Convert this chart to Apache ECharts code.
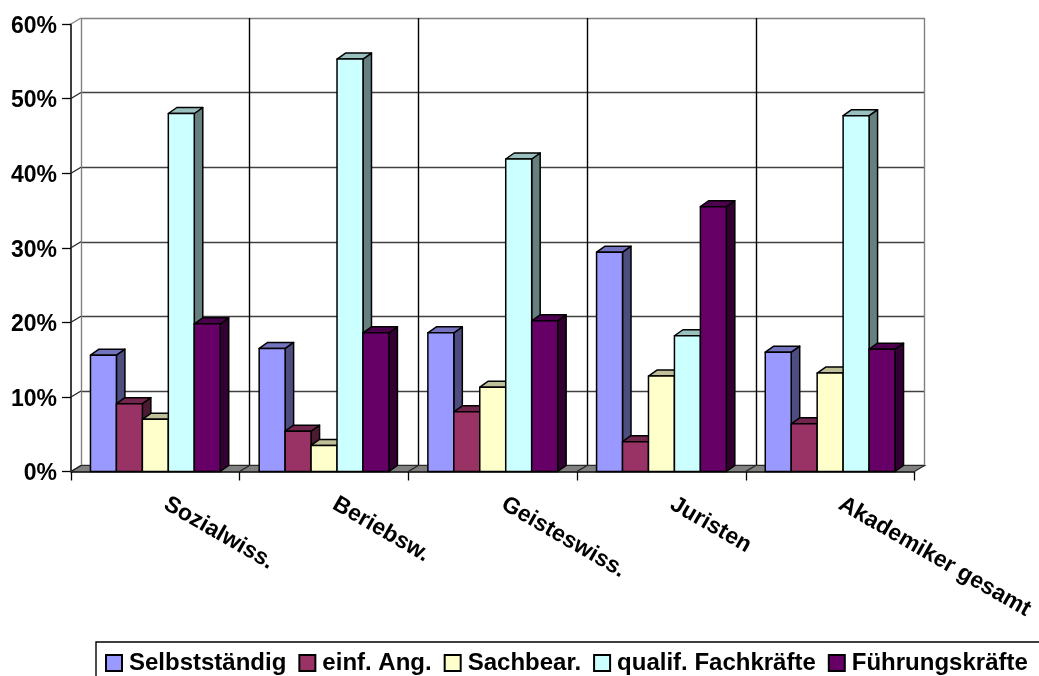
<!DOCTYPE html>
<html>
<head>
<meta charset="utf-8">
<style>html,body{margin:0;padding:0;background:#fff;overflow:hidden}#c{width:1039px;height:676px}</style>
<script src="https://cdn.jsdelivr.net/npm/echarts@6/dist/echarts.min.js"></script>
</head>
<body>
<div id="c"></div>
<script>
// Occupational position by field of study, shares in percent.
const categories = ['Sozialwiss.', 'Beriebsw.', 'Geisteswiss.', 'Juristen', 'Akademiker gesamt'];
const seriesNames = ['Selbstständig', 'einf. Ang.', 'Sachbear.', 'qualif. Fachkräfte', 'Führungskräfte'];
const selbststaendig = [15.6, 16.5, 18.6, 29.4, 16.0];
const einfAng = [9.1, 5.4, 8.0, 4.0, 6.4];
const sachbear = [7.0, 3.5, 11.3, 12.8, 13.2];
const qualifFach = [48.0, 55.3, 41.9, 18.2, 47.7];
const fuehrung = [19.8, 18.6, 20.2, 35.5, 16.4];
const yTicks = [0, 10, 20, 30, 40, 50, 60];

const seriesValues = [selbststaendig, einfAng, sachbear, qualifFach, fuehrung];
const faceColors = ['#9999FF', '#993366', '#FFFFCC', '#CCFFFF', '#660066'];
const topColors = ['#7373BF', '#73264D', '#BFBF99', '#99BFBF', '#4D004D'];
const sideColors = ['#4D4D80', '#4D1A33', '#808066', '#668080', '#330033'];

const FONT = '"Liberation Sans", Arial, sans-serif';
const DX = 10, DY = -6;        // offset of the back wall from the front plane
const BAR_DX = 8.5, BAR_DY = -6; // depth of each column
const SLOTS = 6.5;             // five bars plus a 150% gap per category

// One extruded column: side, top, then front face.
function columnRenderer(idx) {
  return function (params, api) {
    const cat = api.value(0), val = api.value(1);
    const base = api.coord([cat, 0]);
    const top = api.coord([cat, val]);
    const w = api.size([1, 0])[0] / SLOTS;
    const x0 = base[0] - 2.5 * w + idx * w, x1 = x0 + w;
    const yT = top[1], yB = base[1];
    const line = { stroke: '#000', lineWidth: 1.5, lineJoin: 'round' };
    return {
      type: 'group',
      children: [
        { type: 'polygon', shape: { points: [[x1, yT], [x1 + BAR_DX, yT + BAR_DY], [x1 + BAR_DX, yB + BAR_DY], [x1, yB]] },
          style: Object.assign({ fill: sideColors[idx] }, line) },
        { type: 'polygon', shape: { points: [[x0, yT], [x0 + BAR_DX, yT + BAR_DY], [x1 + BAR_DX, yT + BAR_DY], [x1, yT]] },
          style: Object.assign({ fill: topColors[idx] }, line) },
        { type: 'rect', shape: { x: x0, y: yT, width: w, height: yB - yT },
          style: Object.assign({ fill: faceColors[idx] }, line) }
      ]
    };
  };
}

// Grey floor with the diagonal joints at each category boundary.
function floorRenderer(params, api) {
  const cat = api.value(0);
  const p = api.coord([cat, 0]);
  const band = api.size([1, 0])[0];
  const x0 = p[0] - band / 2, x1 = p[0] + band / 2;
  return {
    type: 'polygon',
    shape: { points: [[x0, p[1]], [x0 + DX, p[1] + DY], [x1 + DX, p[1] + DY], [x1, p[1]]] },
    style: { fill: '#808080', stroke: '#2a2a2a', lineWidth: 1.2 }
  };
}

// Short diagonals on the side wall, joining each y tick to its gridline.
function sideWallRenderer(params, api) {
  const v = api.value(1);
  const p = api.coord([0, v]);
  const x = p[0] - api.size([1, 0])[0] / 2;
  return {
    type: 'line',
    shape: { x1: x, y1: p[1], x2: x + DX, y2: p[1] + DY },
    style: { stroke: v === yTicks[yTicks.length - 1] ? '#808080' : '#222', lineWidth: 1.2 }
  };
}

const gridMain = { left: 71, right: 124.5, top: 24, bottom: 204.5 };
const gridBack = { left: 71 + DX, right: 124.5 - DX, top: 24 + DY, bottom: 204.5 - DY };

const columnSeries = seriesNames.map((name, idx) => ({
  name,
  type: 'custom',
  xAxisIndex: 0,
  yAxisIndex: 0,
  z: 5,
  itemStyle: { color: faceColors[idx], borderColor: '#000', borderWidth: 1.5 },
  renderItem: columnRenderer(idx),
  encode: { x: 0, y: 1 },
  data: seriesValues[idx].map((v, i) => [i, v])
}));

const chart = echarts.init(document.getElementById('c'), null, { renderer: 'canvas' });
chart.setOption({
  animation: false,
  backgroundColor: '#fff',
  grid: [gridMain, gridBack],
  xAxis: [
    {
      type: 'category', gridIndex: 0, data: categories,
      axisLine: { lineStyle: { color: '#000', width: 1.5 } },
      axisTick: { show: true, length: 9, alignWithLabel: false, lineStyle: { color: '#000', width: 1.3 } },
      axisLabel: { rotate: -30, margin: 25, padding: [0, 0, 0, 12], color: '#000', fontFamily: FONT, fontWeight: 'bold', fontSize: 23, interval: 0 },
      splitLine: { show: false }
    },
    {
      type: 'category', gridIndex: 1, data: categories,
      axisLine: { show: false }, axisTick: { show: false }, axisLabel: { show: false },
      splitLine: { show: true, interval: 0, lineStyle: { color: ['#808080', '#000', '#000', '#000', '#000', '#808080'], width: 1.4 } }
    }
  ],
  yAxis: [
    {
      type: 'value', gridIndex: 0, min: 0, max: 60, interval: 10,
      axisLine: { show: true, lineStyle: { color: '#000', width: 1.5 } },
      axisTick: { show: true, length: 9, lineStyle: { color: '#000', width: 1.3 } },
      axisLabel: { margin: 14, verticalAlign: 'top', lineHeight: 5, color: '#000', fontFamily: FONT, fontWeight: 'bold', fontSize: 23, formatter: '{value}%' },
      splitLine: { show: false }
    },
    {
      type: 'value', gridIndex: 1, min: 0, max: 60, interval: 10,
      axisLine: { show: false }, axisTick: { show: false }, axisLabel: { show: false },
      splitLine: { show: true, lineStyle: { color: ['#333', '#404040', '#404040', '#404040', '#404040', '#404040', '#808080'], width: 1.4 } }
    }
  ],
  legend: {
    data: seriesNames,
    left: 105, top: 651,
    padding: 0,
    icon: 'rect',
    itemWidth: 16, itemHeight: 16, itemGap: 12,
    textStyle: { color: '#000', fontFamily: FONT, fontWeight: 'bold', fontSize: 24, padding: [0, 0, 0, 2] }
  },
  graphic: [{
    type: 'rect',
    shape: { x: 96, y: 642, width: 1000, height: 100 },
    style: { fill: 'none', stroke: '#000', lineWidth: 1.4 },
    silent: true
  }],
  series: [
    { type: 'custom', name: 'floor', z: 1, xAxisIndex: 0, yAxisIndex: 0, renderItem: floorRenderer,
      encode: { x: 0, y: 1 }, data: categories.map((c, i) => [i, 0]), silent: true },
    { type: 'custom', name: 'sideWall', z: 1, xAxisIndex: 0, yAxisIndex: 0, renderItem: sideWallRenderer,
      encode: { x: 0, y: 1 }, data: yTicks.map(v => [0, v]), silent: true }
  ].concat(columnSeries)
});
</script>
</body>
</html>
